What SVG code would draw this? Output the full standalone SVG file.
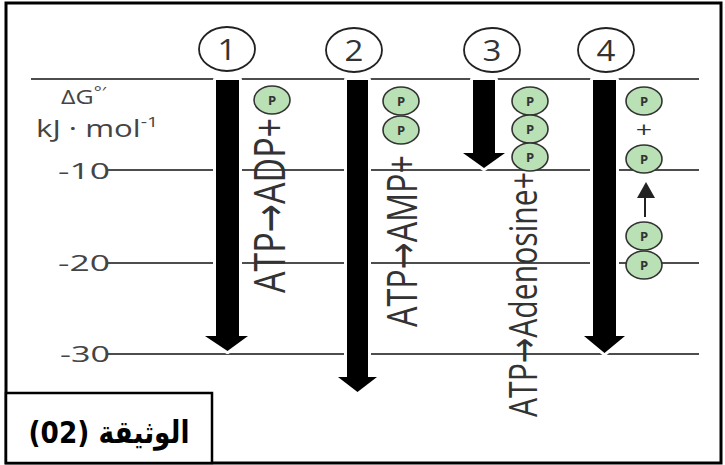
<svg xmlns="http://www.w3.org/2000/svg" width="725" height="465" viewBox="0 0 725 465">
<style>
.grid{stroke:#4d4d4d;stroke-width:2;fill:none}
.bar{fill:#000;stroke:#fff;stroke-width:6;stroke-linejoin:round;paint-order:stroke}
.num{fill:#fff;stroke:#222;stroke-width:1.8}
.numt{font-family:"Open Sans","DejaVu Sans",sans-serif;font-size:30px;fill:#333;text-anchor:middle}
.pc{fill:#b9e1b5;stroke:#333;stroke-width:1.6}
.pt{font-family:"Open Sans","DejaVu Sans",sans-serif;font-size:13px;font-weight:bold;fill:#333;text-anchor:middle}
.lab{font-family:"Open Sans","DejaVu Sans",sans-serif;fill:#444}
.vt{font-family:"Open Sans","DejaVu Sans",sans-serif;fill:#333}
</style>
<rect x="0" y="0" width="725" height="465" fill="#fff"/>
<g id="frame">
<rect x="6" y="3" width="715" height="460" fill="none" stroke="#000" stroke-width="3"/>
</g>
<g id="gridlines">
<line class="grid" x1="31" y1="79" x2="699" y2="79"/>
<line class="grid" x1="108" y1="170" x2="699" y2="170"/>
<line class="grid" x1="108" y1="263" x2="699" y2="263"/>
<line class="grid" x1="108" y1="354" x2="699" y2="354"/>
</g>
<g id="axis">
<text class="lab" transform="translate(61,104) scale(1.25,1)" font-size="20">ΔG<tspan font-size="15" dy="-7">°′</tspan></text>
<text class="lab" transform="translate(36,137) scale(1.3,1)" font-size="24">kJ · mol<tspan font-size="15" dy="-10">-1</tspan></text>
<text class="lab" x="58" y="179" font-size="22" textLength="52" lengthAdjust="spacingAndGlyphs">-10</text>
<text class="lab" x="58" y="271" font-size="22" textLength="52" lengthAdjust="spacingAndGlyphs">-20</text>
<text class="lab" x="60" y="362" font-size="22" textLength="50" lengthAdjust="spacingAndGlyphs">-30</text>
</g>
<g id="connectors">
<polygon class="bar" points="216,80 239,80 239,336 248,336 227.5,351 205,336 216,336"/>
<polygon class="bar" points="347,80 368,80 368,377 377,377 357.5,392 338,377 347,377"/>
<polygon class="bar" points="473,80 495,80 495,153 505,153 484,168 463,153 473,153"/>
<polygon class="bar" points="593,80 616,80 616,336 625,336 604.5,353 584,336 593,336"/>
</g>
<g id="reaction-1">
<ellipse class="num" cx="227" cy="49" rx="28" ry="22"/>
<text class="numt" transform="translate(227,60) scale(1.1,1)">1</text>
<ellipse class="pc" cx="272" cy="100" rx="18" ry="14"/>
<text class="pt" x="272" y="105">P</text>
<text class="vt" transform="translate(285,293) scale(1.3,1) rotate(-90)" font-size="34" textLength="175" lengthAdjust="spacingAndGlyphs">ATP→ADP+</text>
</g>
<g id="reaction-2">
<ellipse class="num" cx="354" cy="50" rx="28" ry="22"/>
<text class="numt" transform="translate(354,61) scale(1.1,1)">2</text>
<ellipse class="pc" cx="401" cy="101" rx="18" ry="14"/>
<text class="pt" x="401" y="106">P</text>
<ellipse class="pc" cx="401" cy="130" rx="18" ry="14"/>
<text class="pt" x="401" y="135">P</text>
<text class="vt" transform="translate(417,327) scale(1.3,1) rotate(-90)" font-size="32" textLength="172" lengthAdjust="spacingAndGlyphs">ATP→AMP+</text>
</g>
<g id="reaction-3">
<ellipse class="num" cx="492" cy="50" rx="28" ry="22"/>
<text class="numt" transform="translate(492,61) scale(1.1,1)">3</text>
<ellipse class="pc" cx="530" cy="101" rx="18" ry="14"/>
<text class="pt" x="530" y="106">P</text>
<ellipse class="pc" cx="530" cy="129" rx="18" ry="14"/>
<text class="pt" x="530" y="134">P</text>
<ellipse class="pc" cx="530" cy="157" rx="18" ry="14"/>
<text class="pt" x="530" y="162">P</text>
<text class="vt" transform="translate(537,417) scale(1.3,1) rotate(-90)" font-size="30" textLength="245" lengthAdjust="spacingAndGlyphs">ATP→Adenosine+</text>
</g>
<g id="reaction-4">
<ellipse class="num" cx="606" cy="50" rx="28" ry="22"/>
<text class="numt" transform="translate(606,61) scale(1.1,1)">4</text>
<ellipse class="pc" cx="644" cy="101" rx="18" ry="14"/>
<text class="pt" x="644" y="106">P</text>
<text class="vt" transform="translate(644,137) scale(1.3,1)" font-size="22" text-anchor="middle">+</text>
<ellipse class="pc" cx="644" cy="159" rx="18" ry="14"/>
<text class="pt" x="644" y="164">P</text>
<line x1="645" y1="217" x2="645" y2="196" stroke="#222" stroke-width="2"/>
<polygon points="637,198 655,198 646,182" fill="#222"/>
<ellipse class="pc" cx="644" cy="236" rx="18" ry="14"/>
<text class="pt" x="644" y="241">P</text>
<ellipse class="pc" cx="644" cy="265" rx="18" ry="14"/>
<text class="pt" x="644" y="270">P</text>
</g>
<g id="caption">
<rect x="6" y="393" width="206" height="70" fill="#fff" stroke="#000" stroke-width="2.5"/>
<text transform="translate(109,443) scale(0.85,1)" font-family="'DejaVu Sans',sans-serif" font-weight="bold" font-size="31" text-anchor="middle" direction="rtl" fill="#000">الوثيقة (02)</text>
</g>
</svg>
